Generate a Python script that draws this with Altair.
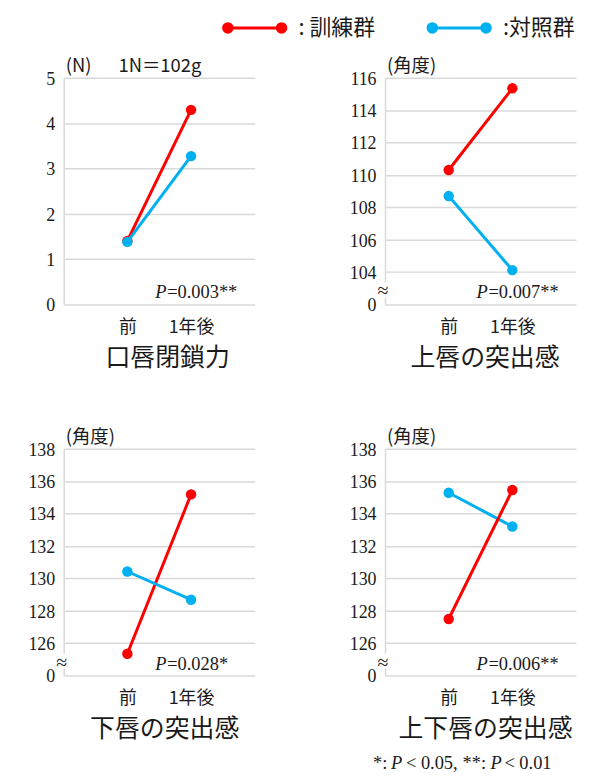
import altair as alt
import pandas as pd

# ---------------- data ----------------
times = ["前", "1年後"]
groups = ["訓練群", "対照群"]
legend_labels = [": 訓練群", ":対照群"]
colors = ["#ff0000", "#00b0f0"]

titles = ["口唇閉鎖力", "上唇の突出感", "下唇の突出感", "上下唇の突出感"]
unit_labels = ["(N)", "(角度)", "(角度)", "(角度)"]
p_values = ["=0.003**", "=0.007**", "=0.028*", "=0.006**"]

train_values = [[1.40, 4.29], [110.3, 115.34], [125.34, 135.18], [127.49, 135.45]]
control_values = [[1.38, 3.27], [108.69, 104.12], [130.42, 128.68], [135.28, 133.2]]

y_domains = [[0, 5], [102, 116], [124, 138], [124, 138]]
y_ticks = [
    [0, 1, 2, 3, 4, 5],
    [102, 104, 106, 108, 110, 112, 114, 116],
    [124, 126, 128, 130, 132, 134, 136, 138],
    [124, 126, 128, 130, 132, 134, 136, 138],
]
broken_axis = [False, True, True, True]
# which group is drawn on top
top_group = ["対照群", "対照群", "対照群", "訓練群"]
title_x = [104, 100, 101, 100.5]

footnote_parts = ["*:", "P", "< 0.05,", "**:", "P", "< 0.01"]
footnote_italic = [False, True, False, False, True, False]

# ---------------- style ----------------
W, H = 192, 228
JP = "Noto Sans CJK JP"
SERIF = "Liberation Serif"
GRID = "#d9d9d9"
TXT = "#1a1a1a"

color_enc = alt.Color("group:N", scale=alt.Scale(domain=groups, range=colors), legend=None)


def panel(i):
    rows = []
    for g, vals in ((groups[0], train_values[i]), (groups[1], control_values[i])):
        for t, v in zip(times, vals):
            rows.append({"group": g, "time": t, "value": v})
    df = pd.DataFrame(rows)

    if broken_axis[i]:
        lab = f"datum.value == {y_domains[i][0]} ? '0' : datum.label"
    else:
        lab = "datum.label"

    xenc = alt.X(
        "time:N",
        sort=times,
        scale=alt.Scale(type="point", padding=1),
        axis=alt.Axis(
            title=titles[i], titleFont=JP, titleFontSize=25, titleFontWeight="normal",
            titleColor=TXT, titleX=title_x[i], titleY=53, titleBaseline="middle",
            titleAlign="center", labelAngle=0, labelFont=JP, labelFontSize=18,
            labelColor=TXT, labelPadding=23, labelBaseline="middle",
            domain=False, ticks=False, tickSize=0, grid=False,
        ),
    )
    yenc = alt.Y(
        "value:Q",
        scale=alt.Scale(domain=y_domains[i], nice=False, zero=False),
        axis=alt.Axis(
            values=y_ticks[i], labelExpr=lab, title=None, grid=True, gridColor=GRID,
            gridWidth=1.5, domain=True, domainColor=GRID, domainWidth=1.5,
            ticks=False, tickSize=0, labelPadding=9, labelFont=SERIF, labelFontSize=18,
            labelColor=TXT, labelOffset=1.5, zindex=0,
        ),
    )

    order = [g for g in groups if g != top_group[i]] + [top_group[i]]
    layers = []
    for g in order:
        sub = df[df["group"] == g]
        base = alt.Chart(sub)
        layers.append(base.mark_line(strokeWidth=3).encode(x=xenc, y=yenc, color=color_enc))
        layers.append(base.mark_circle(size=110, opacity=1).encode(x=xenc, y=yenc, color=color_enc))

    # unit label above the y axis
    layers.append(
        alt.Chart(pd.DataFrame({"t": [unit_labels[i]]})).mark_text(
            align="left", baseline="middle", font=JP, fontSize=18.5, color=TXT
        ).encode(x=alt.value(2), y=alt.value(-12), text="t:N")
    )
    if i == 0:
        layers.append(
            alt.Chart(pd.DataFrame({"t": ["1N＝102g"]})).mark_text(
                align="left", baseline="middle", font=JP, fontSize=18.5, color=TXT
            ).encode(x=alt.value(55), y=alt.value(-12), text="t:N")
        )

    # P value
    layers.append(
        alt.Chart(pd.DataFrame({"t": ["P"]})).mark_text(
            align="left", baseline="alphabetic", font=SERIF, fontSize=18.5,
            fontStyle="italic", color=TXT
        ).encode(x=alt.value(92), y=alt.value(H - 6), text="t:N")
    )
    layers.append(
        alt.Chart(pd.DataFrame({"t": [p_values[i]]})).mark_text(
            align="left", baseline="alphabetic", font=SERIF, fontSize=18.5, color=TXT
        ).encode(x=alt.value(104), y=alt.value(H - 6), text="t:N")
    )

    # broken axis mark
    if broken_axis[i]:
        layers.append(
            alt.Chart(pd.DataFrame({"t": ["≈"]})).mark_rule(color="white", strokeWidth=5).encode(
                x=alt.value(0), y=alt.value(H - 22), y2=alt.value(H - 7)
            )
        )
        layers.append(
            alt.Chart(pd.DataFrame({"t": ["≈"]})).mark_text(
                align="center", baseline="middle", font=SERIF, fontSize=20, color=TXT
            ).encode(x=alt.value(-2), y=alt.value(H - 13), text="t:N")
        )

    # footnote under the last panel
    if i == 3:
        fx = [-12, 6, 21, 78, 106, 120]
        for part, it, xx in zip(footnote_parts, footnote_italic, fx):
            layers.append(
                alt.Chart(pd.DataFrame({"t": [part]})).mark_text(
                    align="left", baseline="alphabetic", font=SERIF, fontSize=18.5,
                    fontStyle="italic" if it else "normal", color=TXT
                ).encode(x=alt.value(xx), y=alt.value(H + 94), text="t:N")
            )

    return alt.layer(*layers).properties(width=W, height=H)


# ---------------- legend ----------------
leg_df = pd.DataFrame({"group": groups, "label": legend_labels})
lx = alt.X("group:N", scale=alt.Scale(type="point", domain=groups, range=[192, 397.5], padding=0), axis=None)
leg_base = alt.Chart(leg_df)
legend = alt.layer(
    leg_base.mark_rule(strokeWidth=3, xOffset=-27, x2Offset=27).encode(
        x=lx, x2="group:N", y=alt.value(10), color=color_enc
    ),
    leg_base.mark_circle(size=133, opacity=1, xOffset=-27).encode(x=lx, y=alt.value(10), color=color_enc),
    leg_base.mark_circle(size=133, opacity=1, xOffset=27).encode(x=lx, y=alt.value(10), color=color_enc),
    leg_base.mark_text(align="left", baseline="middle", dx=44, font=JP, fontSize=22, color=TXT).encode(
        x=lx, y=alt.value(10), text="label:N"
    ),
).properties(width=2 * W + 131, height=20)

grid = alt.concat(
    panel(0), panel(1), panel(2), panel(3),
    columns=2, spacing={"row": 145, "column": 131}, bounds="flush",
)

chart = (
    alt.vconcat(legend, grid, spacing=18)
    .properties(padding={"left": 20, "top": 7, "right": 5, "bottom": 0}, background="white")
    .configure_view(strokeWidth=0, stroke="transparent")
    .configure_axisY(labelFont=SERIF, labelFontSize=18)
    .configure_axisX(labelFont=JP, labelFontSize=18)
)

chart.save("out.html", embed_options={"renderer": "svg", "actions": False})
